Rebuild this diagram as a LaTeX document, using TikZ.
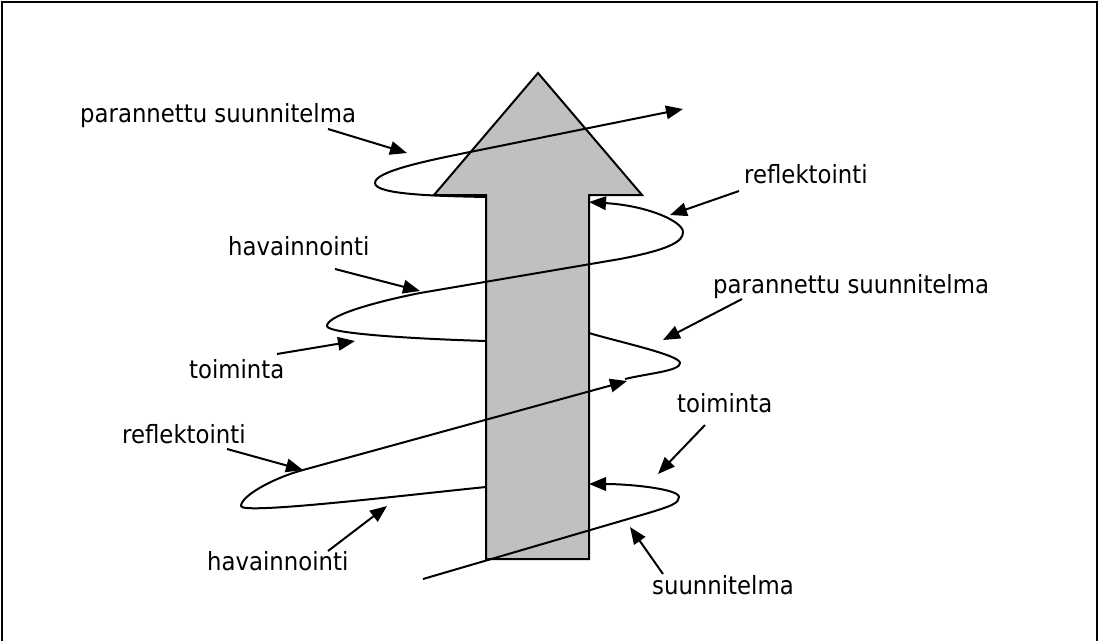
\documentclass[tikz,border=0pt]{standalone}
\usepackage{fontspec}
\setmainfont{DejaVu Sans}
\usetikzlibrary{arrows.meta}
\definecolor{shaftgray}{HTML}{C0C0C0}
\newcommand\tall[1]{\scalebox{1}[1.1]{#1}}
\begin{document}
\begin{tikzpicture}[x=1pt,y=-1pt,
  lbl/.style={anchor=base west,inner sep=0pt,font=\fontsize{22.8}{27}\selectfont},
  coil/.style={line width=2pt,line join=round},
  tipped/.style={coil,-{Triangle[length=17pt,width=13.5pt]}},
  ptr/.style={line width=2pt,-{Triangle[length=17pt,width=13.5pt]}}]

% canvas and frame
\fill[white] (0,0) rectangle (1100,641);
\useasboundingbox (0,0) rectangle (1100,641);
\draw[line width=2pt] (1.5,641) -- (1.5,1.5) -- (1097,1.5) -- (1097,641);

% the big upward arrow
\draw[line width=2pt,fill=shaftgray,line join=miter]
  (486,559) -- (486,195) -- (434,195) -- (538,73) -- (642,195)
  -- (589,195) -- (589,559) -- cycle;

% points where the spiral meets the arrow
\coordinate (s0) at (423,579);
\coordinate (r1) at (589,484);
\coordinate (l1) at (486,487);
\coordinate (m1) at (627,381);
\coordinate (m2) at (625,379);
\coordinate (r2) at (589,333);
\coordinate (l2) at (486,341);
\coordinate (r3) at (589,202);
\coordinate (l3) at (486,197);
\coordinate (e0) at (683,109);

% spiral, turn by turn from the bottom
\draw[tipped] (s0) -- (645,514) .. controls (672,506) and (679,503) .. (679,497)
  .. controls (679,489) and (630,484) .. (r1);
\draw[tipped] (l1) .. controls (406,495) and (241,515) .. (241,506)
  .. controls (241,496) and (273,478) .. (303,470) -- (m1);
\draw[coil] (m2) .. controls (650,373) and (680,371) .. (680,363)
  .. controls (680,355) and (619,342) .. (r2);
\draw[tipped] (l2) .. controls (420,339) and (327,334) .. (327,326)
  .. controls (327,316) and (370,303) .. (420,293) -- (620,259)
  .. controls (672,249) and (683,241) .. (683,232)
  .. controls (683,222) and (650,206) .. (r3);
\draw[tipped] (l3) .. controls (440,196) and (375,195) .. (375,183)
  .. controls (375,172) and (420,162) .. (470,152) -- (e0);

% labels
\node[lbl] (t1) at (80,122) {\tall{parannettu suunnitelma}};
\node[lbl] (t2) at (744,183) {\tall{reflektointi}};
\node[lbl] (t3) at (228,255) {\tall{havainnointi}};
\node[lbl] (t4) at (189,378) {\tall{toiminta}};
\node[lbl] (t5) at (713,293) {\tall{parannettu suunnitelma}};
\node[lbl] (t6) at (122,443) {\tall{reflektointi}};
\node[lbl] (t7) at (677,412) {\tall{toiminta}};
\node[lbl] (t8) at (207,570) {\tall{havainnointi}};
\node[lbl] (t9) at (652,594) {\tall{suunnitelma}};

% pointers from the labels to the spiral
\coordinate (a1) at (328,129); \coordinate (b1) at (407,153);
\coordinate (a2) at (739,191); \coordinate (b2) at (670,215);
\coordinate (a3) at (335,269); \coordinate (b3) at (420,291);
\coordinate (a4) at (277,354); \coordinate (b4) at (355,341);
\coordinate (a5) at (742,299); \coordinate (b5) at (663,340);
\coordinate (a6) at (227,449); \coordinate (b6) at (303,470);
\coordinate (a7) at (705,425); \coordinate (b7) at (658,474);
\coordinate (a8) at (328,551); \coordinate (b8) at (387,506);
\coordinate (a9) at (663,574); \coordinate (b9) at (630,527);
\foreach \i in {1,...,9} \draw[ptr] (a\i) -- (b\i);
\end{tikzpicture}
\end{document}
